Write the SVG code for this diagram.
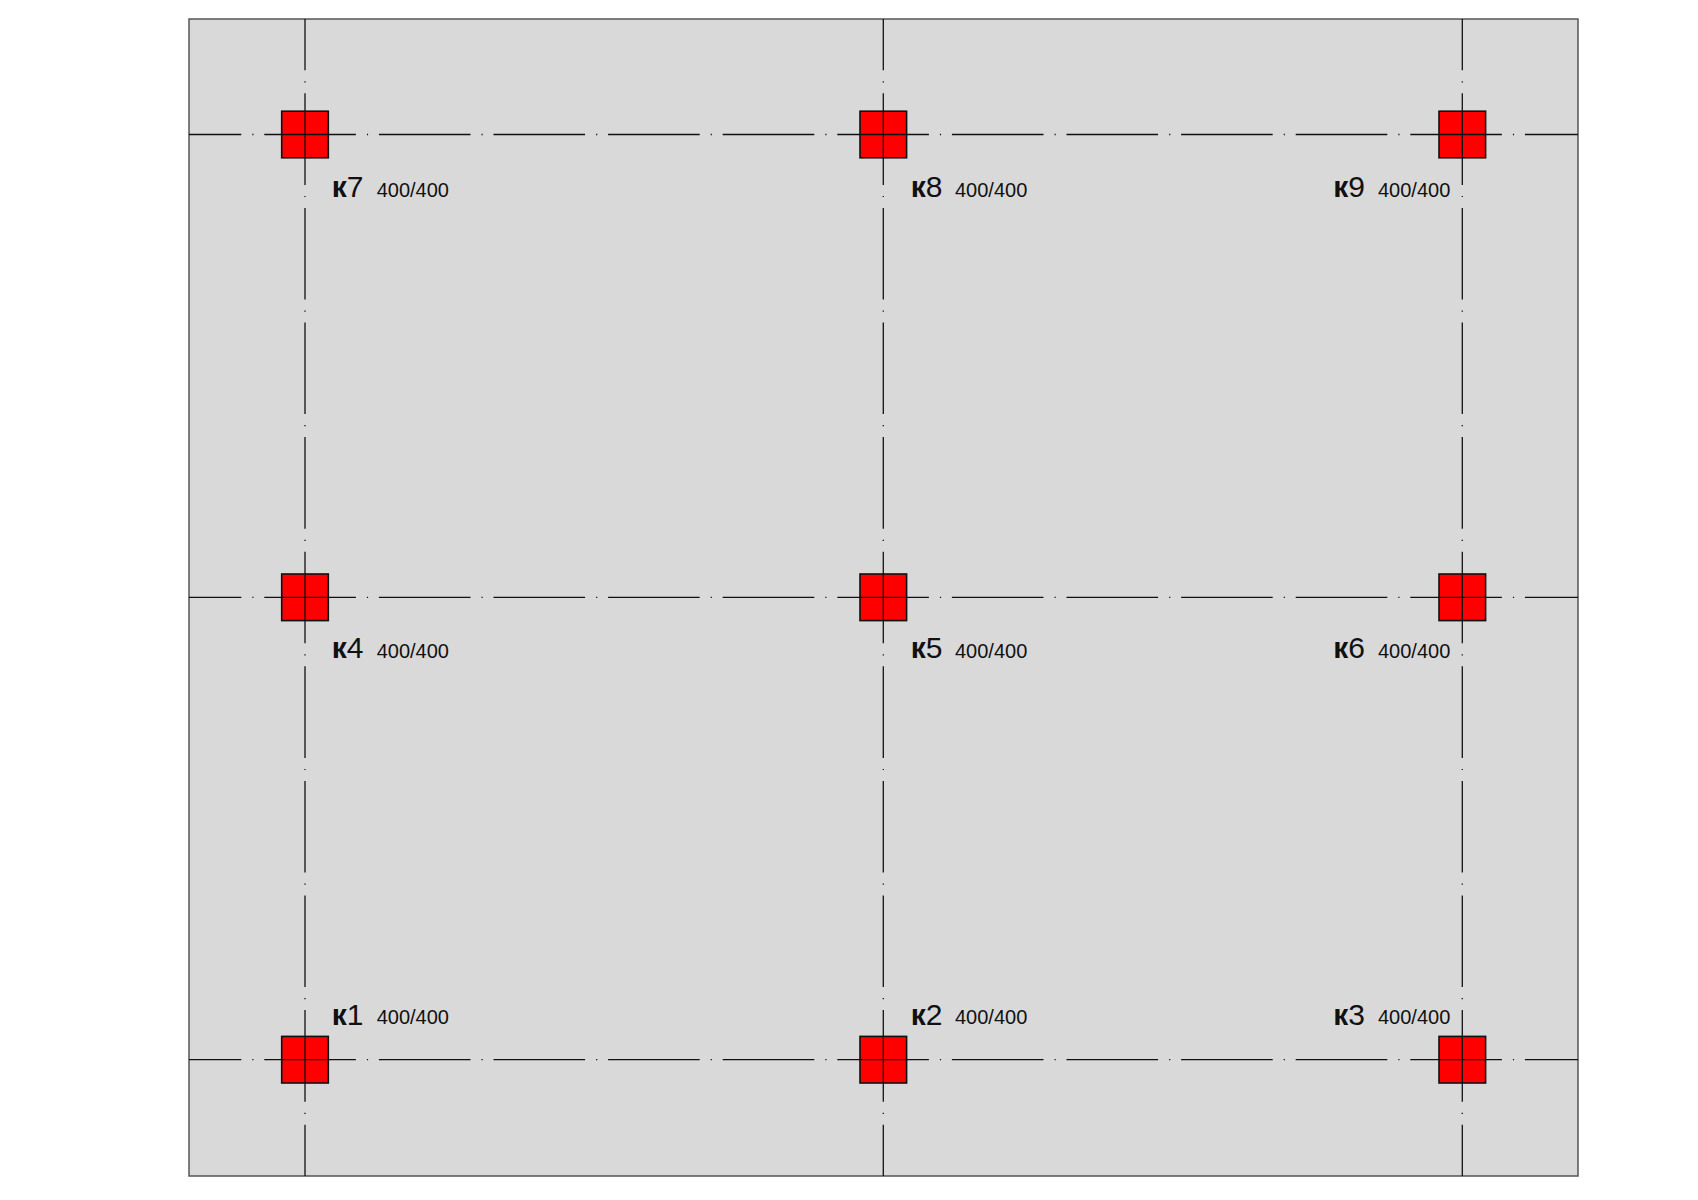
<svg xmlns="http://www.w3.org/2000/svg" width="1698" height="1200" viewBox="0 0 1698 1200">
<style>
.slab{fill:#d9d9d9;stroke:#555;stroke-width:1.5}
.ax{stroke:#111;stroke-width:1.3;fill:none;stroke-dasharray:91.6 11 1.2 10.8}
.axh{stroke-dashoffset:39.3}
.axv{stroke-dashoffset:40.3}
.col{fill:#ff0000;stroke:#111;stroke-width:1.6}
.nm{font-family:"Liberation Sans",Arial,sans-serif;font-size:30px;fill:#111}
.nm .k{font-weight:bold}
.sz{font-family:"Liberation Sans",Arial,sans-serif;font-size:20px;fill:#111}
</style>
<rect width="1698" height="1200" fill="#ffffff"/>
<rect id="slab" class="slab" x="189" y="19" width="1389" height="1157"/>
<g id="k1"><rect class="col" x="281.7" y="1036.4" width="46.6" height="46.6"/><text class="nm" x="331.7" y="1025"><tspan class="k">к</tspan>1</text><text class="sz" x="376.7" y="1024">400/400</text></g>
<g id="k2"><rect class="col" x="860" y="1036.4" width="46.6" height="46.6"/><text class="nm" x="910.7" y="1025"><tspan class="k">к</tspan>2</text><text class="sz" x="955" y="1024">400/400</text></g>
<g id="k3"><rect class="col" x="1439" y="1036.4" width="46.6" height="46.6"/><text class="nm" x="1333.3" y="1025"><tspan class="k">к</tspan>3</text><text class="sz" x="1378" y="1024">400/400</text></g>
<g id="k4"><rect class="col" x="281.7" y="574" width="46.6" height="46.6"/><text class="nm" x="331.7" y="657.5"><tspan class="k">к</tspan>4</text><text class="sz" x="376.7" y="657.5">400/400</text></g>
<g id="k5"><rect class="col" x="860" y="574" width="46.6" height="46.6"/><text class="nm" x="910.7" y="657.5"><tspan class="k">к</tspan>5</text><text class="sz" x="955" y="657.5">400/400</text></g>
<g id="k6"><rect class="col" x="1439" y="574" width="46.6" height="46.6"/><text class="nm" x="1333.3" y="657.5"><tspan class="k">к</tspan>6</text><text class="sz" x="1378" y="657.5">400/400</text></g>
<g id="k7"><rect class="col" x="281.7" y="111.2" width="46.6" height="46.6"/><text class="nm" x="331.7" y="196.8"><tspan class="k">к</tspan>7</text><text class="sz" x="376.7" y="196.5">400/400</text></g>
<g id="k8"><rect class="col" x="860" y="111.2" width="46.6" height="46.6"/><text class="nm" x="910.7" y="196.8"><tspan class="k">к</tspan>8</text><text class="sz" x="955" y="196.5">400/400</text></g>
<g id="k9"><rect class="col" x="1439" y="111.2" width="46.6" height="46.6"/><text class="nm" x="1333.3" y="196.8"><tspan class="k">к</tspan>9</text><text class="sz" x="1378" y="196.5">400/400</text></g>
<g id="axes">
<line class="ax axh" x1="189" y1="134.5" x2="1578" y2="134.5"/>
<line class="ax axh" x1="189" y1="597.3" x2="1578" y2="597.3"/>
<line class="ax axh" x1="189" y1="1059.7" x2="1578" y2="1059.7"/>
<line class="ax axv" x1="305" y1="19" x2="305" y2="1176"/>
<line class="ax axv" x1="883.3" y1="19" x2="883.3" y2="1176"/>
<line class="ax axv" x1="1462.3" y1="19" x2="1462.3" y2="1176"/>
</g>
</svg>
